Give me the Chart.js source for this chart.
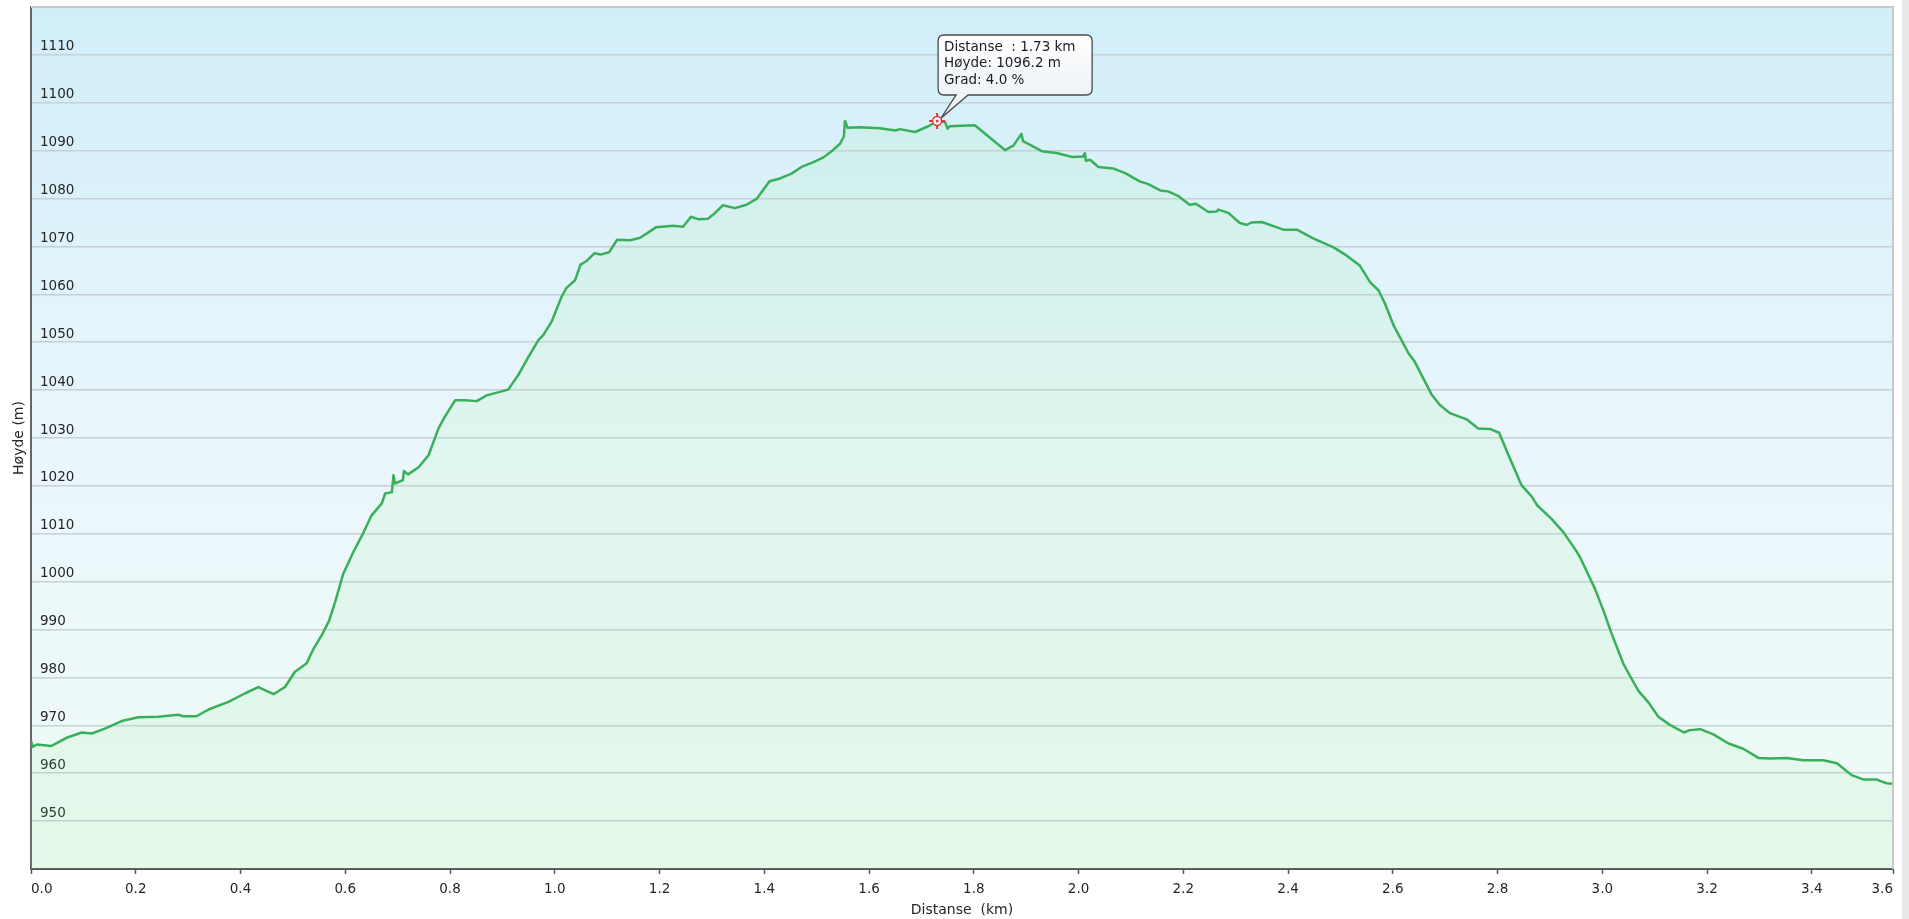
<!DOCTYPE html>
<html>
<head>
<meta charset="utf-8">
<title>Høydeprofil</title>
<script src="https://cdn.jsdelivr.net/npm/chart.js@4.4.1/dist/chart.umd.min.js"></script>
<style>
  html, body { margin: 0; padding: 0; background: #fff; }
  #wrap { position: relative; width: 1909px; height: 919px; }
</style>
</head>
<body>
<div id="wrap"><canvas id="profil"></canvas></div>
<script>
// distanse i km og høyde i meter, lest av profilen
const distanse = [
  0.000, 0.003, 0.011, 0.039, 0.068, 0.097, 0.116, 0.141, 0.173, 0.205,
  0.243, 0.281, 0.291, 0.316, 0.339, 0.377, 0.409, 0.434, 0.463, 0.485,
  0.504, 0.526, 0.539, 0.556, 0.569, 0.580, 0.596, 0.615, 0.635, 0.650,
  0.670, 0.676, 0.689, 0.692, 0.695, 0.710, 0.712, 0.720, 0.740, 0.759,
  0.778, 0.790, 0.810, 0.829, 0.851, 0.870, 0.911, 0.930, 0.950, 0.969,
  0.978, 0.994, 1.013, 1.022, 1.039, 1.049, 1.060, 1.076, 1.087, 1.104,
  1.119, 1.144, 1.163, 1.181, 1.193, 1.226, 1.245, 1.260, 1.274, 1.293,
  1.306, 1.321, 1.344, 1.366, 1.386, 1.410, 1.430, 1.452, 1.471, 1.494,
  1.513, 1.531, 1.545, 1.552, 1.554, 1.559, 1.583, 1.621, 1.650, 1.659,
  1.688, 1.713, 1.731, 1.745, 1.750, 1.754, 1.802, 1.860, 1.876, 1.891,
  1.894, 1.930, 1.958, 1.987, 2.009, 2.012, 2.014, 2.022, 2.038, 2.066,
  2.089, 2.117, 2.133, 2.156, 2.171, 2.191, 2.212, 2.224, 2.248, 2.264,
  2.267, 2.286, 2.308, 2.321, 2.330, 2.350, 2.391, 2.417, 2.448, 2.487,
  2.509, 2.537, 2.557, 2.573, 2.585, 2.602, 2.630, 2.642, 2.674, 2.690,
  2.709, 2.741, 2.763, 2.785, 2.803, 2.821, 2.846, 2.865, 2.876, 2.903,
  2.926, 2.948, 2.958, 2.986, 3.002, 3.018, 3.040, 3.053, 3.069, 3.088,
  3.107, 3.129, 3.156, 3.167, 3.187, 3.212, 3.241, 3.269, 3.298, 3.320,
  3.352, 3.384, 3.422, 3.448, 3.476, 3.498, 3.524, 3.530, 3.543, 3.555
];
const hoyde = [
  966.8, 965.5, 966.0, 965.7, 967.4, 968.5, 968.3, 969.3, 970.9, 971.7,
  971.8, 972.2, 971.9, 971.9, 973.3, 974.9, 976.7, 978.0, 976.5, 978.0,
  981.2, 982.9, 985.9, 989.0, 991.8, 995.5, 1001.6, 1006.1, 1010.3, 1013.8,
  1016.4, 1018.4, 1018.7, 1022.2, 1020.5, 1021.2, 1023.1, 1022.4, 1023.9, 1026.4,
  1032.0, 1034.4, 1037.9, 1037.9, 1037.7, 1038.9, 1040.1, 1043.1, 1047.0, 1050.5,
  1051.5, 1054.3, 1059.5, 1061.3, 1063.0, 1066.2, 1066.9, 1068.6, 1068.3, 1068.8,
  1071.4, 1071.3, 1071.8, 1073.1, 1074.0, 1074.3, 1074.1, 1076.2, 1075.7, 1075.8,
  1077.0, 1078.6, 1078.0, 1078.7, 1080.0, 1083.6, 1084.2, 1085.2, 1086.6, 1087.6,
  1088.6, 1090.1, 1091.5, 1093.0, 1096.2, 1094.8, 1094.9, 1094.7, 1094.2, 1094.5,
  1093.9, 1095.1, 1096.2, 1096.0, 1094.6, 1095.1, 1095.3, 1090.1, 1091.1, 1093.5,
  1092.0, 1089.9, 1089.5, 1088.7, 1088.8, 1089.5, 1087.9, 1088.1, 1086.6, 1086.3,
  1085.3, 1083.6, 1083.0, 1081.7, 1081.5, 1080.5, 1078.7, 1078.9, 1077.2, 1077.3,
  1077.7, 1077.0, 1074.9, 1074.5, 1075.0, 1075.1, 1073.5, 1073.5, 1071.7, 1069.8,
  1068.3, 1066.0, 1062.5, 1060.8, 1058.1, 1053.4, 1047.7, 1045.9, 1039.1, 1036.9,
  1035.2, 1033.9, 1032.0, 1031.9, 1031.1, 1026.4, 1020.1, 1017.8, 1015.9, 1013.1,
  1010.3, 1006.8, 1005.0, 998.5, 994.0, 989.1, 982.9, 980.3, 977.2, 974.8,
  971.8, 970.1, 968.5, 969.0, 969.2, 968.1, 966.2, 965.1, 963.2, 963.1,
  963.2, 962.7, 962.7, 962.1, 959.6, 958.7, 958.7, 958.4, 957.9, 957.8
];

const xTicks = [0, 0.2, 0.4, 0.6, 0.8, 1.0, 1.2, 1.4, 1.6, 1.8, 2.0, 2.2, 2.4, 2.6, 2.8, 3.0, 3.2, 3.4, 3.555];
const yTicks = [950, 960, 970, 980, 990, 1000, 1010, 1020, 1030, 1040, 1050, 1060, 1070, 1080, 1090, 1100, 1110];

// markert punkt med infoboks
const markDist = 1.73;
const markHoyde = 1096.2;
const markGrad = 4.0;

Chart.defaults.font.family = '"DejaVu Sans", Verdana, sans-serif';
Chart.defaults.font.size = 13;
Chart.defaults.color = '#262626';

const bakgrunn = {
  id: 'bakgrunn',
  beforeDraw(chart) {
    const { ctx, chartArea: a, width, height } = chart;
    ctx.save();
    ctx.fillStyle = '#ffffff';
    ctx.fillRect(0, 0, width, height);
    const g = ctx.createLinearGradient(0, a.top, 0, a.bottom);
    g.addColorStop(0, '#d1eef9');
    g.addColorStop(0.5, '#eaf6fc');
    g.addColorStop(1, '#effbf5');
    ctx.fillStyle = g;
    ctx.fillRect(a.left, a.top, a.right - a.left, a.bottom - a.top);
    ctx.restore();
  },
  afterDraw(chart) {
    const { ctx, chartArea: a, width, height } = chart;
    ctx.save();
    ctx.strokeStyle = '#c8c8c8';
    ctx.lineWidth = 2;
    ctx.beginPath();
    ctx.moveTo(a.left, a.top);
    ctx.lineTo(a.right, a.top);
    ctx.lineTo(a.right, a.bottom);
    ctx.stroke();
    ctx.fillStyle = '#e8e8e8';
    ctx.fillRect(width - 7, 0, 7, height);
    ctx.restore();
  }
};

const markering = {
  id: 'markering',
  afterDraw(chart) {
    const { ctx, scales: { x, y } } = chart;
    const px = x.getPixelForValue(markDist);
    const py = y.getPixelForValue(markHoyde);
    const bx = px + 1, by = py - 86, bw = 154, bh = 60, r = 6;

    ctx.save();
    ctx.beginPath();
    ctx.moveTo(bx + r, by);
    ctx.lineTo(bx + bw - r, by);
    ctx.quadraticCurveTo(bx + bw, by, bx + bw, by + r);
    ctx.lineTo(bx + bw, by + bh - r);
    ctx.quadraticCurveTo(bx + bw, by + bh, bx + bw - r, by + bh);
    ctx.lineTo(px + 31, by + bh);
    ctx.lineTo(px + 4, py - 3);
    ctx.lineTo(px + 19, by + bh);
    ctx.lineTo(bx + r, by + bh);
    ctx.quadraticCurveTo(bx, by + bh, bx, by + bh - r);
    ctx.lineTo(bx, by + r);
    ctx.quadraticCurveTo(bx, by, bx + r, by);
    ctx.closePath();
    const g = ctx.createLinearGradient(0, by, 0, by + bh);
    g.addColorStop(0, '#ffffff');
    g.addColorStop(1, '#eef3f7');
    ctx.fillStyle = g;
    ctx.fill();
    ctx.strokeStyle = '#4a4a4a';
    ctx.lineWidth = 1.3;
    ctx.stroke();

    ctx.fillStyle = '#1f1b26';
    ctx.font = '13.5px "DejaVu Sans", Verdana, sans-serif';
    ctx.textBaseline = 'middle';
    ctx.fillText('Distanse  : ' + markDist.toFixed(2) + ' km', bx + 6, by + 13);
    ctx.fillText('Høyde: ' + markHoyde.toFixed(1) + ' m', bx + 6, by + 29);
    ctx.fillText('Grad: ' + markGrad.toFixed(1) + ' %', bx + 6, by + 45.5);

    // rødt sikte
    ctx.strokeStyle = '#e5343a';
    ctx.lineWidth = 2;
    ctx.beginPath();
    ctx.moveTo(px - 8, py); ctx.lineTo(px - 4, py);
    ctx.moveTo(px + 4, py); ctx.lineTo(px + 8, py);
    ctx.moveTo(px, py - 8); ctx.lineTo(px, py - 4);
    ctx.moveTo(px, py + 4); ctx.lineTo(px, py + 8);
    ctx.stroke();
    ctx.beginPath();
    ctx.arc(px, py, 4.5, 0, Math.PI * 2);
    ctx.fillStyle = '#ffffff';
    ctx.fill();
    ctx.lineWidth = 1.5;
    ctx.stroke();
    ctx.beginPath();
    ctx.arc(px, py, 1.5, 0, Math.PI * 2);
    ctx.fillStyle = '#e5343a';
    ctx.fill();
    ctx.restore();
  }
};

const punkter = distanse.map((d, i) => ({ x: d, y: hoyde[i] }));

new Chart(document.getElementById('profil'), {
  type: 'line',
  data: {
    datasets: [{
      label: 'Høyde',
      data: punkter,
      borderColor: '#38b05a',
      borderWidth: 2.5,
      borderJoinStyle: 'round',
      backgroundColor: 'rgba(150, 235, 150, 0.12)',
      fill: 'start',
      pointRadius: 0,
      tension: 0
    }]
  },
  options: {
    responsive: true,
    maintainAspectRatio: false,
    animation: false,
    events: [],
    layout: { padding: { left: 0, top: 7, right: 16, bottom: 0 } },
    plugins: {
      legend: { display: false },
      tooltip: { enabled: false }
    },
    scales: {
      x: {
        type: 'linear',
        min: 0,
        max: 3.555,
        afterBuildTicks: (scale) => { scale.ticks = xTicks.map(v => ({ value: v })); },
        afterFit: (scale) => {
          scale.height = 50;
          scale.paddingLeft = 0;
          scale.paddingRight = 0;
        },
        ticks: {
          align: 'inner',
          autoSkip: false,
          maxRotation: 0,
          padding: 7,
          font: { size: 13.5 },
          callback: (v) => Number(v).toFixed(1)
        },
        grid: {
          drawOnChartArea: false,
          drawTicks: true,
          tickLength: 5,
          tickColor: '#555555',
          tickWidth: 1.5
        },
        border: { color: '#555555', width: 2 },
        title: {
          display: true,
          text: 'Distanse  (km)',
          font: { size: 14 },
          padding: { top: 0, bottom: 0 }
        }
      },
      y: {
        type: 'linear',
        min: 940,
        max: 1120,
        afterBuildTicks: (scale) => { scale.ticks = yTicks.map(v => ({ value: v })); },
        afterFit: (scale) => {
          scale.width = 31;
          scale.paddingTop = 0;
          scale.paddingBottom = 0;
        },
        ticks: {
          mirror: true,
          padding: 9,
          labelOffset: -8,
          font: { size: 13.5 },
          callback: (v) => String(v)
        },
        grid: {
          color: '#c6d0d5',
          lineWidth: 1.5,
          drawTicks: false
        },
        border: { color: '#666666', width: 2 },
        title: {
          display: true,
          text: 'Høyde (m)',
          font: { size: 14 },
          padding: { top: 11, bottom: 0 }
        }
      }
    }
  },
  plugins: [bakgrunn, markering]
});
</script>
</body>
</html>
